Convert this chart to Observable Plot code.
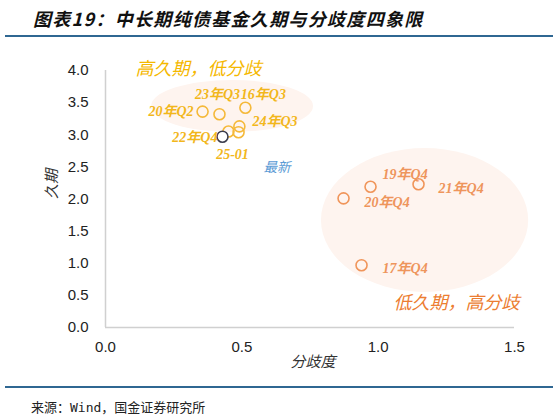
<!DOCTYPE html>
<html>
<head>
<meta charset="utf-8">
<script src="https://cdn.jsdelivr.net/npm/d3@7"></script>
<script src="https://cdn.jsdelivr.net/npm/@observablehq/plot@0.6"></script>
<style>
  body { margin: 0; width: 559px; height: 417px; background: #fff; position: relative; overflow: hidden; }
  #title { position: absolute; left: 33px; top: 5px; font: italic 700 18px "Noto Sans CJK SC", sans-serif; letter-spacing: 1.3px; color: #111; }
  .rule { position: absolute; left: 5px; width: 548px; height: 2px; background: #2f6792; }
  #chart { position: absolute; left: 0; top: 40px; }
  #source { position: absolute; left: 31px; top: 397px; font: 13px "DejaVu Sans Mono", "Noto Sans CJK SC", monospace; color: #222; }
</style>
</head>
<body>
<div id="title">图表19：中长期纯债基金久期与分歧度四象限</div>
<div class="rule" style="top:35px"></div>
<div id="chart"></div>
<div class="rule" style="top:386px"></div>
<div id="source">来源：Wind，国金证券研究所</div>
<script>
// fund duration vs divergence, one point per period
let labels     = ["20年Q2", "23年Q3", "16年Q3", "22年Q4", "24年Q3", "", "25-01", "19年Q4", "21年Q4", "20年Q4", "17年Q4"];
let divergence = [0.356, 0.418, 0.513, 0.451, 0.491, 0.488, 0.429, 0.972, 1.148, 0.873, 0.939];
let duration   = [3.36, 3.32, 3.42, 3.05, 3.13, 3.04, 2.97, 2.19, 2.23, 2.01, 0.97];
let quadrant   = ["high", "high", "high", "high", "high", "high", "latest", "low", "low", "low", "low"];

let xTicks = [0, 0.5, 1.0, 1.5];
let yTicks = [0, 0.5, 1.0, 1.5, 2.0, 2.5, 3.0, 3.5, 4.0];

// shaded quadrant zones (centre and radii in data units)
let zoneX  = [0.466, 1.172];
let zoneY  = [3.44, 1.665];
let zoneRx = [0.297, 0.38];
let zoneRy = [0.405, 1.12];

// annotation texts
let noteText = ["高久期，低分歧", "低久期，高分歧", "最新"];
let noteX    = [0.341, 1.287, 0.629];
let noteY    = [4.02, 0.37, 2.49];

let points = labels.map((l, i) => ({label: l, x: divergence[i], y: duration[i], q: quadrant[i]}));
let notes = noteText.map((t, i) => ({text: t, x: noteX[i], y: noteY[i]}));
let zones = zoneX.map((x, i) => ({x, y: zoneY[i], rx: zoneRx[i], ry: zoneRy[i]}));

let colors = {high: "#f5b93a", latest: "#3b3d4d", low: "#f0955a"};
let labelColors = {high: "#f2b71c", latest: "#f2b71c", low: "#ee955c"};

// where each point label sits relative to its point (pixels)
let placement = [
    {label: "20年Q2", dx: -9, dy: 0, anchor: "end"},
    {label: "23年Q3", dx: -2, dy: -20, anchor: "middle"},
    {label: "16年Q3", dx: 18, dy: -13, anchor: "middle"},
    {label: "24年Q3", dx: 13, dy: -5, anchor: "start"},
    {label: "22年Q4", dx: -11, dy: 6, anchor: "end"},
    {label: "25-01", dx: 10, dy: 18, anchor: "middle"},
    {label: "19年Q4", dx: 12, dy: -12, anchor: "start"},
    {label: "21年Q4", dx: 20, dy: 4, anchor: "start"},
    {label: "20年Q4", dx: 21, dy: 4, anchor: "start"},
    {label: "17年Q4", dx: 21, dy: 3, anchor: "start"}
];

function drawZones(index, scales) {
    let g = d3.create("svg:g");
    for (let z of zones) {
        let cx = scales.x(z.x), cy = scales.y(z.y);
        g.append("ellipse")
            .attr("cx", cx).attr("cy", cy)
            .attr("rx", scales.x(z.x + z.rx) - cx)
            .attr("ry", cy - scales.y(z.y + z.ry))
            .attr("fill", "#fef4ef");
    }
    return g.node();
}

let labelFont = "'Liberation Serif', 'Noto Sans CJK SC', serif";

let labelMarks = placement.map(p => Plot.text(points.filter(d => d.label == p.label), {
    x: "x", y: "y", text: "label",
    dx: p.dx, dy: p.dy, textAnchor: p.anchor,
    fill: d => labelColors[d.q],
    fontSize: 14, fontWeight: "bold", fontStyle: "italic", fontFamily: labelFont
}));

let plot = Plot.plot({
    width: 559,
    height: 345,
    marginTop: 30,
    marginBottom: 58,
    marginLeft: 105,
    marginRight: 45,
    style: {fontFamily: "'Liberation Sans', Arial, sans-serif", fontSize: "15px", color: "#222", background: "transparent"},
    x: {domain: [0, 1.5], ticks: xTicks, tickFormat: ".1f", tickSize: 0, tickPadding: 14, label: null},
    y: {domain: [0, 4], ticks: yTicks, tickFormat: ".1f", tickSize: 0, tickPadding: 17, label: null},
    marks: [
        drawZones,
        Plot.ruleX([0], {stroke: "#d0d0d0", strokeWidth: 1.5}),
        Plot.ruleY([0], {stroke: "#d0d0d0", strokeWidth: 1.5}),
        Plot.dot(points, {x: "x", y: "y", r: 5.5, stroke: d => colors[d.q], strokeWidth: 1.6,
            fill: d => d.q == "latest" ? "white" : "none", sort: d => d.q == "latest" ? 1 : 0}),
        ...labelMarks,
        Plot.text(notes.slice(0, 2), {x: "x", y: "y", text: "text", fontSize: 18, fontStyle: "italic",
            fontFamily: "'Noto Sans CJK SC', sans-serif",
            fill: (d, i) => i == 0 ? "#f5b800" : "#ec7d31"}),
        Plot.text(notes.slice(2), {x: "x", y: "y", text: "text", fontSize: 13.5, fontStyle: "italic",
            fontFamily: "'Noto Sans CJK SC', sans-serif", fill: "#5b9bd5"}),
        Plot.text(["分歧度"], {frameAnchor: "bottom", dx: 3, dy: 39, fontSize: 15, fontStyle: "italic",
            fontFamily: "'Noto Sans CJK SC', sans-serif", fill: "#333"}),
        Plot.text(["久期"], {frameAnchor: "left", dx: -53, rotate: -90, fontSize: 15, fontStyle: "italic",
            fontFamily: "'Noto Sans CJK SC', sans-serif", fill: "#333"})
    ]
});

document.getElementById("chart").append(plot);
</script>
</body>
</html>
